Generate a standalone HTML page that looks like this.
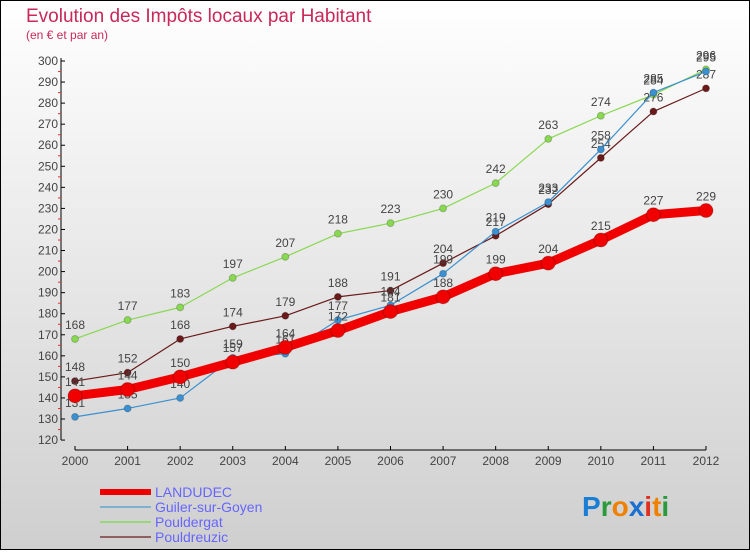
<!DOCTYPE html>
<html><head><meta charset="utf-8"><style>
html,body{margin:0;padding:0;}
body{width:750px;height:550px;overflow:hidden;font-family:"Liberation Sans",sans-serif;}
</style></head><body>
<svg id="chart" width="750" height="550" xmlns="http://www.w3.org/2000/svg" font-family="Liberation Sans, sans-serif">
<defs><linearGradient id="bg" x1="0" y1="0" x2="0" y2="1"><stop offset="0" stop-color="#ffffff"/><stop offset="1" stop-color="#cfcfcf"/></linearGradient></defs>
<rect x="0.5" y="0.5" width="749" height="549" fill="url(#bg)" stroke="#000"/>
<text x="26" y="22" font-size="19" fill="#c8285a">Evolution des Impôts locaux par Habitant</text>
<text x="26" y="39" font-size="12" fill="#c8285a">(en € et par an)</text>
<g id="axes"></g>
<g id="series"></g>
<g id="legend"></g>
<text x="582" y="516" font-size="28" font-weight="bold"><tspan fill="#1a7fd4">P</tspan><tspan fill="#2a9a3a">r</tspan><tspan fill="#f08000">o</tspan><tspan fill="#1a6fd0">x</tspan><tspan fill="#e03020">i</tspan><tspan fill="#f08000">t</tspan><tspan fill="#2a9a3a">i</tspan></text>
</svg>
<script>
const years=["2000","2001","2002","2003","2004","2005","2006","2007","2008","2009","2010","2011","2012"];
const landudec=[141,144,150,157,164,172,181,188,199,204,215,227,229];
const guiler=[131,135,140,159,161,177,184,199,219,233,258,285,295];
const pouldergat=[168,177,183,197,207,218,223,230,242,263,274,284,296];
const pouldreuzic=[148,152,168,174,179,188,191,204,217,232,254,276,287];
const yTicks=[120,130,140,150,160,170,180,190,200,210,220,230,240,250,260,270,280,290,300];
const NS="http://www.w3.org/2000/svg";
const xs=i=>75+i*(706-75)/12;
const ys=v=>61+(300-v)*(419-61)/170;
function mk(t,a,p){const e=document.createElementNS(NS,t);for(const k in a)e.setAttribute(k,a[k]);p.appendChild(e);return e;}
const ax=document.getElementById('axes');
let yl=mk('line',{x1:61,y1:58,x2:61,y2:ys(120),stroke:'#000'},ax);


yTicks.forEach(v=>{
  const y=ys(v);
  mk('line',{x1:61,y1:y,x2:65,y2:y,stroke:'#000'},ax);
  if(v<300) mk('line',{x1:58,y1:y-10.5,x2:61,y2:y-10.5,stroke:'#e03030'},ax);
  const t=mk('text',{x:58,y:y+4,'font-size':12,fill:'#444','text-anchor':'end'},ax);
  
  
  t.textContent=v;
});
let xl=mk('line',{x1:75,y1:450,x2:706,y2:450,stroke:'#000'},ax);


years.forEach((yr,i)=>{
  const x=xs(i);
  mk('line',{x1:x,y1:446,x2:x,y2:450,stroke:'#000'},ax);
  const t=mk('text',{x:x,y:465,'font-size':12,fill:'#444','text-anchor':'middle'},ax);
  
  
  t.textContent=yr;
});
const sg=document.getElementById('series');
function series(data,color,w,r,name){
  const g=mk('g',{},sg);
  
  
  mk('polyline',{points:data.map((v,i)=>xs(i)+','+ys(v)).join(' '),fill:'none',stroke:color,'stroke-width':w,'stroke-linejoin':'round'},g);
  data.forEach((v,i)=>{
    const c=mk('circle',{cx:xs(i),cy:ys(v),r:r,fill:color,stroke:'rgba(0,0,0,0.2)'},g);
    
    
    const t=mk('text',{x:xs(i),y:ys(v)-10,'font-size':12,fill:'#444','text-anchor':'middle'},g);
    
    
    t.textContent=v;
  });
}
series(pouldergat,'#88d850',1.2,3.5,'pouldergat-series');
series(pouldreuzic,'#6a1a1a',1.2,3.5,'pouldreuzic-series');
series(guiler,'#3a90d0',1.2,3.5,'guiler-series');
series(landudec,'#f00000',9,7,'landudec-series');
const lg=document.getElementById('legend');
const items=[["LANDUDEC","#ee0000",6],["Guiler-sur-Goyen","#80b0d0",2],["Pouldergat","#98d878",2],["Pouldreuzic","#906060",2]];
items.forEach((it,k)=>{
  const y=492+k*15;
  const g=mk('g',{},lg);
  
  
  mk('line',{x1:100,y1:y,x2:151,y2:y,stroke:it[1],'stroke-width':it[2]},g);
  const t=mk('text',{x:155,y:y+5,'font-size':14,fill:'#6666ff'},g);
  t.textContent=it[0];
});
</script>
</body></html>
